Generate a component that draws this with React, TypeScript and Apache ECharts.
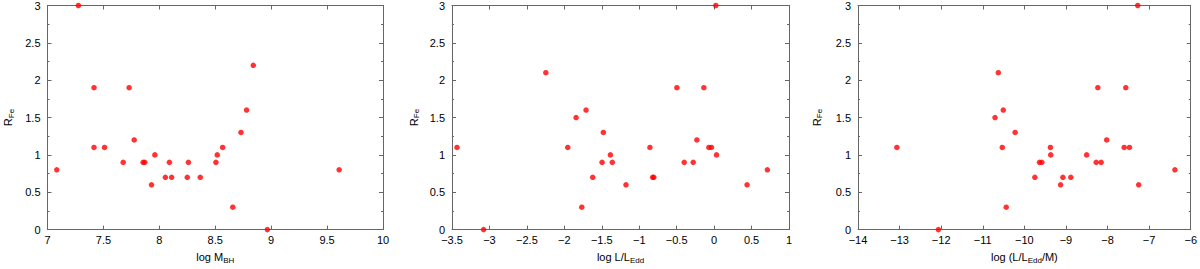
import React, { useEffect, useRef } from "react";
import * as echarts from "echarts";

const massX = [7.083, 7.276, 7.416, 7.416, 7.51, 7.677, 7.73, 7.775, 7.855, 7.87, 7.93, 7.96, 8.054, 8.09, 8.11, 8.25, 8.26, 8.366, 8.506, 8.518, 8.566, 8.657, 8.73, 8.78, 8.84, 8.966, 9.608];
const massY = [0.8, 3.0, 1.9, 1.1, 1.1, 0.9, 1.9, 1.2, 0.9, 0.9, 0.6, 1.0, 0.7, 0.9, 0.7, 0.7, 0.9, 0.7, 0.9, 1.0, 1.1, 0.3, 1.3, 1.6, 2.2, 0.0, 0.8];

const eddX = [-3.433, -3.078, -2.247, -1.954, -1.843, -1.767, -1.71, -1.621, -1.496, -1.479, -1.385, -1.359, -1.177, -0.857, -0.82, -0.805, -0.497, -0.399, -0.279, -0.23, -0.137, -0.07, -0.035, 0.023, 0.032, 0.44, 0.711];
const eddY = [1.1, 0.0, 2.1, 1.1, 1.5, 0.3, 1.6, 0.7, 0.9, 1.3, 1.0, 0.9, 0.6, 1.1, 0.7, 0.7, 1.9, 0.9, 0.9, 1.2, 1.9, 1.1, 1.1, 3.0, 1.0, 0.6, 0.8];

const ratioX = [-13.065, -12.067, -10.705, -10.626, -10.531, -10.507, -10.436, -10.222, -9.747, -9.636, -9.58, -9.374, -9.366, -9.129, -9.073, -8.883, -8.503, -8.273, -8.234, -8.154, -8.02, -7.6, -7.561, -7.473, -7.275, -7.251, -6.38];
const ratioY = [1.1, 0.0, 1.5, 2.1, 1.1, 1.6, 0.3, 1.3, 0.7, 0.9, 0.9, 1.1, 1.0, 0.6, 0.7, 0.7, 1.0, 0.9, 1.9, 0.9, 1.2, 1.1, 1.9, 1.1, 3.0, 0.6, 0.8];

const xNames = ["{a|log M}{s|BH}", "{a|log L/L}{s|Edd}", "{a|log (L/L}{s|Edd}{a|/M)}"];
const yName = "{a|R}{s|Fe}";
const xRanges = [
  { min: 7, max: 10, interval: 0.5 },
  { min: -3.5, max: 1, interval: 0.5 },
  { min: -14, max: -6, interval: 1 },
];
const yRange = { min: 0, max: 3, interval: 0.5 };

const FONT = "Liberation Sans, Arial, Helvetica, sans-serif";
const FRAME = "#666666";

const rich = {
  a: { fontSize: 11, color: "#000", fontFamily: FONT, lineHeight: 13 },
  s: { fontSize: 8, color: "#000", fontFamily: FONT, lineHeight: 13, padding: [6, 0, 0, 0] },
};

const fmt = (v: number) => String(v).replace("-", "\u2212");

export default function App() {
  const ref = useRef<HTMLDivElement>(null);
  useEffect(() => {
    if (!ref.current) return;
    const chart = echarts.init(ref.current, undefined, { renderer: "svg" });
    const grids = [
      { left: 47, width: 336, top: 4, height: 234 },
      { left: 452, width: 337, top: 4, height: 234 },
      { left: 858, width: 337, top: 4, height: 234 },
    ];
    const yGaps = [33, 32, 35];
    const datasets = [
      massX.map((x, i) => [x, massY[i]]),
      eddX.map((x, i) => [x, eddY[i]]),
      ratioX.map((x, i) => [x, ratioY[i]]),
    ];
    const xAxis: any[] = [];
    const yAxis: any[] = [];
    const series: any[] = [];
    grids.forEach((_, i) => {
      const common = {
        type: "value",
        gridIndex: i,
        splitLine: { show: false },
        axisLine: { show: true, onZero: false, lineStyle: { color: FRAME, width: 1 } },
      };
      xAxis.push({
        ...common,
        ...xRanges[i],
        position: "bottom",
        axisTick: { show: true, inside: true, length: 4, lineStyle: { color: FRAME } },
        axisLabel: { show: true, color: "#000", fontSize: 11, fontFamily: FONT, margin: 5, lineHeight: 10, formatter: fmt },
        name: xNames[i],
        nameLocation: "middle",
        nameGap: 19,
        nameTextStyle: { rich },
      });
      xAxis.push({
        ...common,
        ...xRanges[i],
        position: "top",
        axisTick: { show: true, inside: true, length: 4, lineStyle: { color: FRAME } },
        axisLabel: { show: false },
      });
      yAxis.push({
        ...common,
        ...yRange,
        position: "left",
        axisTick: { show: true, inside: true, length: 4, lineStyle: { color: FRAME } },
        minorTick: { show: true, splitNumber: 2, length: 2, lineStyle: { color: FRAME } },
        axisLabel: { show: true, color: "#000", fontSize: 11, fontFamily: FONT, margin: 7, lineHeight: 9 },
        name: yName,
        nameLocation: "middle",
        nameRotate: 90,
        nameGap: yGaps[i],
        nameTextStyle: { rich },
      });
      yAxis.push({
        ...common,
        ...yRange,
        position: "right",
        axisTick: { show: true, inside: true, length: 4, lineStyle: { color: FRAME } },
        minorTick: { show: true, splitNumber: 2, length: 2, lineStyle: { color: FRAME } },
        axisLabel: { show: false },
      });
      series.push({
        type: "scatter",
        xAxisIndex: 2 * i,
        yAxisIndex: 2 * i,
        data: datasets[i],
        symbol: "circle",
        symbolSize: 5.5,
        itemStyle: { color: "#ff0000" },
        clip: false,
      });
    });
    chart.setOption({
      animation: false,
      backgroundColor: "#fff",
      grid: grids,
      xAxis,
      yAxis,
      series,
    });
    return () => chart.dispose();
  }, []);
  return <div ref={ref} style={{ width: 1200, height: 269, position: "absolute", left: 0, top: 0 }} />;
}
